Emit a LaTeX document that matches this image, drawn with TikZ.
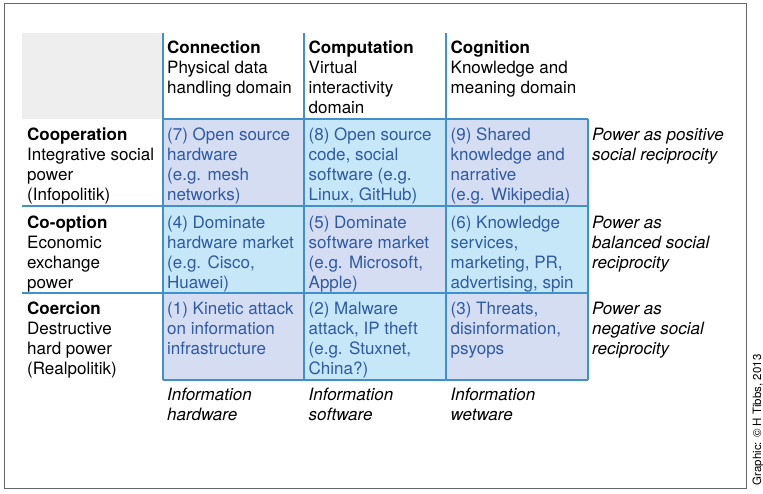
\documentclass[tikz,border=0pt]{standalone}
\usepackage{fontspec}
\setmainfont{TeX Gyre Heros}
\definecolor{gridline}{HTML}{4090CC}
\definecolor{celltext}{HTML}{2E5AA6}
\definecolor{lav}{HTML}{D5DDF2}
\definecolor{cyan}{HTML}{C6E7F7}
\definecolor{blank}{HTML}{EEEEEE}
\begin{document}
\begin{tikzpicture}[x=1pt, y=-1pt,
	every node/.style={inner sep=0pt, anchor=north west, align=left, font=\fontsize{17}{20}\selectfont},
	cell/.style={text=celltext},
	side/.style={font=\fontsize{17}{20}\selectfont\itshape},
	grid/.style={gridline, line width=2pt},]

\useasboundingbox (0,0) rectangle (763,494);
\draw[gray!80!black, line width=0.8pt] (4,3) rectangle (746,488);
\fill[blank] (22,33) rectangle (163,119);

% cells
\foreach \x/\y/\c in {163/119/lav, 304/119/cyan, 446/119/lav,
	163/206/cyan, 304/206/lav, 446/206/cyan,
	163/293/lav, 304/293/cyan, 446/293/lav}
	\fill[\c] (\x,\y) rectangle ++(142,87);

% grid
\foreach \x in {163,304,446}
	\draw[grid] (\x,33) -- (\x,380);
\draw[grid] (588,119) -- (588,380);
\draw[grid] (163,119) -- (588,119);
\draw[grid] (22,206) -- (588,206);
\draw[grid] (22,293) -- (588,293);
\draw[grid] (163,380) -- (588,380);

% column heads
\node (connection) at (167,39) {\strut\textbf{Connection}\\Physical data\\handling domain};
\node (computation) at (308.5,39) {\strut\textbf{Computation}\\Virtual\\interactivity\\domain};
\node (cognition) at (450.5,39) {\strut\textbf{Cognition}\\Knowledge and\\meaning domain};

% row heads
\node (cooperation) at (27,126) {\strut\textbf{Cooperation}\\Integrative social\\power\\(Infopolitik)};
\node (cooption) at (27,214) {\strut\textbf{Co-option}\\Economic\\exchange\\power};
\node (coercion) at (27,300) {\strut\textbf{Coercion}\\Destructive\\hard power\\(Realpolitik)};

% cell texts
\node[cell] (c7) at (167,126) {\strut(7) Open source\\hardware\\(e.g. mesh\\networks)};
\node[cell] (c8) at (308.5,126) {\strut(8) Open source\\code, social\\software (e.g.\\Linux, GitHub)};
\node[cell] (c9) at (450.5,126) {\strut(9) Shared\\knowledge and\\narrative\\(e.g. Wikipedia)};
\node[cell] (c4) at (167,214) {\strut(4) Dominate\\hardware market\\(e.g. Cisco,\\Huawei)};
\node[cell] (c5) at (308.5,214) {\strut(5) Dominate\\software market\\(e.g. Microsoft,\\Apple)};
\node[cell] (c6) at (450.5,214) {\strut(6) Knowledge\\services,\\marketing, PR,\\advertising, spin};
\node[cell] (c1) at (167,300) {\strut(1) Kinetic attack\\on information\\infrastructure};
\node[cell] (c2) at (308.5,300) {\strut(2) Malware\\attack, IP theft\\(e.g. Stuxnet,\\China?)};
\node[cell] (c3) at (450.5,300) {\strut(3) Threats,\\disinformation,\\psyops};

% right side
\node[side] (positive) at (592,126) {\strut Power as positive\\social reciprocity};
\node[side] (balanced) at (592,214) {\strut Power as\\balanced social\\reciprocity};
\node[side] (negative) at (592,300) {\strut Power as\\negative social\\reciprocity};

% bottom
\node[side] (hardware) at (167,386) {\strut Information\\hardware};
\node[side] (software) at (308.5,386) {\strut Information\\software};
\node[side] (wetware) at (450.5,386) {\strut Information\\wetware};

\node[anchor=center, rotate=90, font=\fontsize{11.5}{13}\selectfont] (credit) at (758,420) {Graphic: © H Tibbs, 2013};
\end{tikzpicture}
\end{document}
